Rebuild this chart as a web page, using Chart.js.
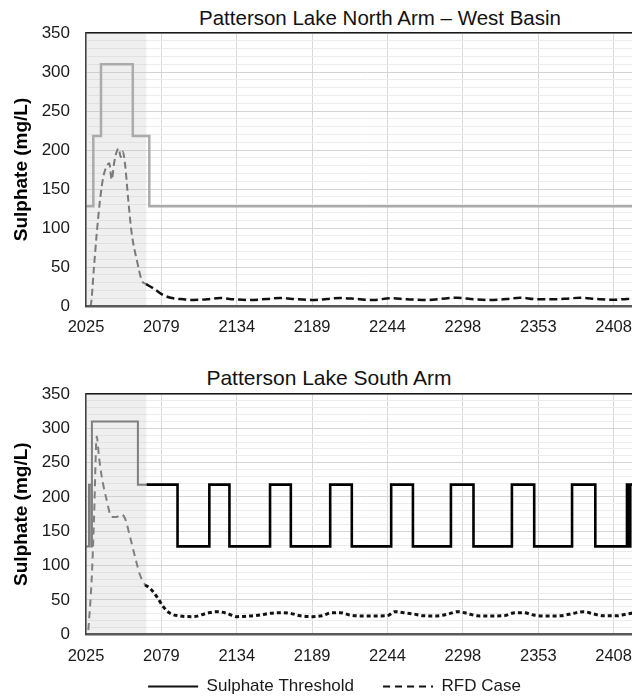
<!DOCTYPE html>
<html><head><meta charset="utf-8">
<script src="https://cdn.jsdelivr.net/npm/chart.js@4.4.1/dist/chart.umd.min.js"></script>
<style>
html,body{margin:0;padding:0;background:#fff;}
#wrap{position:relative;width:632px;height:696px;overflow:hidden;background:#fff;}
canvas{position:absolute;left:0;}
.ttl{position:absolute;transform:translateX(-50%);white-space:nowrap;font-family:'Liberation Sans',Arial,sans-serif;font-size:20.5px;line-height:1;color:#111;}
</style></head><body>
<div id="wrap">
<div class="ttl" style="left:380px;top:8px">Patterson Lake North Arm – West Basin</div>
<canvas id="c1" width="669" height="345" style="top:0"></canvas>
<div class="ttl" style="left:329px;top:367px;font-size:21px">Patterson Lake South Arm</div>
<canvas id="c2" width="669" height="355" style="top:350px"></canvas>
</div>
<script>
const FONT = "'Liberation Sans', Arial, sans-serif";

// ---- axes ----
const xTickValues = [2025, 2079.8, 2134.5, 2189.3, 2244.0, 2298.8, 2353.6, 2408.3];
const xTickLabels = ['2025', '2079', '2134', '2189', '2244', '2298', '2353', '2408'];
const xMin = 2025, xMax = 2434;
const yMin = 0, yMax = 350;
const shadedPeriod = [2025, 2069];
const shadedTop = [350, 350];

// ---- North Arm – West Basin ----
const northThresholdYears  = [2025, 2030.3, 2035.9, 2059.0, 2071.0, 2434];
const northThresholdValues = [128, 218, 310, 218, 128, 128];

const northRfdEarlyYears  = [2027.6, 2028.4, 2030.8, 2032.8, 2035.2, 2037.6, 2040.0, 2041.9, 2043.7, 2045.4, 2047.3, 2048.8, 2050.2, 2051.7, 2053.3, 2055.7, 2058.2, 2061.9, 2065.5, 2068.6];
const northRfdEarlyValues = [0, 1, 50, 93, 136, 166, 179, 183, 162, 183, 198, 202, 191, 198, 183, 136, 93, 59, 33, 28];

const northRfdYears  = [2068.6, 2073.9, 2081.1, 2088.4, 2095.7, 2103.0, 2112.7, 2122.4, 2132.1, 2144.2, 2156.3, 2166.0, 2178.1, 2190.2, 2199.9, 2209.6, 2221.7, 2233.8, 2246.0, 2258.1, 2272.6, 2282.3, 2294.4, 2306.5, 2318.6, 2330.7, 2340.4, 2352.5, 2364.6, 2374.3, 2384.0, 2396.1, 2408.2, 2417.9, 2434];
const northRfdValues = [28, 22.7, 14, 9.9, 8.6, 7.7, 8.6, 10.3, 8.6, 7.7, 9, 10.3, 8.6, 7.7, 9, 10.3, 9, 7.7, 9.9, 8.6, 7.7, 9, 10.6, 8.6, 7.7, 9, 10.6, 8.6, 8.6, 9.4, 10.6, 9, 8, 9, 10];

// ---- South Arm ----
const southThresholdEarlyYears  = [2025, 2027.2, 2028.8, 2029.3, 2062.7, 2069];
const southThresholdEarlyValues = [128, 218, 128, 310, 218, 218];

const southThresholdYears  = [2069, 2091.5, 2114.6, 2129.2, 2158.7, 2173.8, 2202.4, 2218.1, 2246.7, 2262.5, 2290.1, 2306.5, 2334.4, 2350.6, 2378.1, 2395.0, 2418.0, 2419.2, 2420.4, 2434];
const southThresholdValues = [218, 128, 218, 128, 218, 128, 218, 128, 218, 128, 218, 128, 218, 128, 218, 128, 218, 128, 218, 218];

const southRfdEarlyYears  = [2026.7, 2029.1, 2030.8, 2032.8, 2034.4, 2036.4, 2039.5, 2043.7, 2047.3, 2050.2, 2053.3, 2057.0, 2060.6, 2064.3, 2067.9];
const southRfdEarlyValues = [6, 79, 167, 288, 259, 230, 200, 171, 171, 175, 169, 142, 113, 86, 72];

const southRfdYears  = [2067.9, 2071.5, 2076.4, 2081.2, 2086.1, 2093.3, 2103.0, 2112.7, 2120.0, 2127.3, 2134.5, 2144.2, 2151.5, 2158.7, 2166.0, 2173.3, 2180.6, 2189.1, 2196.3, 2203.6, 2209.6, 2216.9, 2226.6, 2236.3, 2243.6, 2249.6, 2255.6, 2262.9, 2270.2, 2279.9, 2288.4, 2294.5, 2301.7, 2309.0, 2318.7, 2328.3, 2336.8, 2342.9, 2350.2, 2359.9, 2369.6, 2379.2, 2386.5, 2393.8, 2401.0, 2410.8, 2418.0, 2427.0, 2434];
const southRfdValues = [72, 67, 55, 40, 30.6, 26.7, 25.7, 30.6, 33, 30.6, 25.7, 26.7, 28, 30.6, 31.5, 30.6, 27, 25.7, 27, 31.5, 31.5, 28, 26.7, 26.7, 27, 33, 31.5, 29.6, 27, 26.7, 29.6, 33, 30.6, 27, 26.7, 27, 31.5, 31.5, 28, 26.7, 27, 30.6, 33, 29.6, 27, 27, 29.6, 32, 31];

function pts(xs, ys) { return xs.map((x, i) => ({ x: x, y: ys[i] })); }

function shadeDataset() {
  return { label: 'shade', data: pts(shadedPeriod, shadedTop), fill: 'origin',
    backgroundColor: 'rgba(190,190,190,0.25)', borderColor: 'rgba(0,0,0,0)', borderWidth: 0.01,
    pointRadius: 0, hideInLegend: true };
}

function makeChart(id, datasets, opts) {
  const legendCfg = opts.legend ? {
    display: true, position: 'bottom', align: 'center',
    labels: {
      usePointStyle: true, pointStyle: 'line', pointStyleWidth: 50, padding: 29,
      color: '#1a1a1a', font: { family: FONT, size: 17 },
      generateLabels: (chart) => {
        const items = Chart.defaults.plugins.legend.labels.generateLabels(chart);
        return items.filter(it => !chart.data.datasets[it.datasetIndex].hideInLegend).map(it => {
          const ds = chart.data.datasets[it.datasetIndex];
          it.lineWidth = 2;
          it.strokeStyle = '#111111';
          it.lineDash = ds.borderDash ? [7, 5] : [];
          it.fillStyle = 'rgba(0,0,0,0)';
          return it;
        });
      }
    }
  } : { display: false };

  return new Chart(document.getElementById(id), {
    type: 'line',
    data: { datasets: datasets },
    options: {
      responsive: false, animation: false, devicePixelRatio: 1,
      layout: { padding: { top: opts.padTop, left: 0, right: 0, bottom: 0 } },
      elements: { point: { radius: 0 }, line: { tension: 0 } },
      plugins: { title: { display: false }, tooltip: { enabled: false }, legend: legendCfg },
      scales: {
        x: {
          type: 'linear', position: 'bottom', min: xMin, max: xMax,
          afterBuildTicks: s => { s.ticks = xTickValues.map(v => ({ value: v })); },
          afterFit: s => { s.height = opts.xHeight; s._computeLabelArea = () => undefined; },
          ticks: { autoSkip: false, maxRotation: 0, padding: 12, color: '#1a1a1a',
            font: { family: FONT, size: 16.5 }, callback: (v, i) => xTickLabels[i] },
          grid: { color: '#d9d9d9', lineWidth: 1, drawTicks: false },
          border: { display: true, color: '#595959', width: 2.5, z: 1 }
        },
        xTop: {
          type: 'linear', position: 'top', display: true,
          ticks: { display: false }, grid: { display: false },
          border: { display: true, color: '#1a1a1a', width: 1.5, z: 1 },
          afterFit: s => { s.height = 0; }
        },
        y: {
          type: 'linear', position: 'left', min: yMin, max: yMax,
          afterFit: s => { s.width = 86; },
          ticks: { stepSize: 10, autoSkip: false, padding: 16, color: '#1a1a1a',
            font: { family: FONT, size: 17 }, callback: v => (v % 50 === 0 ? String(v) : '') },
          grid: { color: c => (c.tick && c.tick.value % 50 === 0 ? '#d4d4d4' : '#ececec'), lineWidth: 1, drawTicks: false },
          border: { display: true, color: '#404040', width: 1.5, z: 1 },
          title: { display: true, text: 'Sulphate (mg/L)', color: '#000',
            font: { family: FONT, size: 19, weight: 'bold' }, padding: { top: 10, bottom: 0 } }
        },
        yR: {
          type: 'linear', position: 'right', display: true,
          ticks: { display: false }, grid: { display: false }, border: { display: false },
          afterFit: s => { s.width = 20; }
        }
      }
    }
  });
}

makeChart('c1', [
  { label: 'Sulphate Threshold', data: pts(northThresholdYears, northThresholdValues), stepped: true,
    borderColor: '#ababab', borderWidth: 2.5, pointRadius: 0, fill: false },
  { label: 'RFD Case', data: pts(northRfdYears, northRfdValues), borderColor: '#111111', borderWidth: 2.5,
    borderDash: [8, 4], pointRadius: 0, fill: false, cubicInterpolationMode: 'monotone' },
  { label: 'RFD Case (early)', data: pts(northRfdEarlyYears, northRfdEarlyValues), borderColor: '#7a7a7a', borderWidth: 2,
    borderDash: [7, 4], pointRadius: 0, fill: false, cubicInterpolationMode: 'monotone', hideInLegend: true },
  shadeDataset()
], { legend: false, padTop: 33, xHeight: 39 });

makeChart('c2', [
  { label: 'Sulphate Threshold', data: pts(southThresholdYears, southThresholdValues), stepped: true,
    borderColor: '#000000', borderWidth: 2.6, pointRadius: 0, fill: false },
  { label: 'RFD Case', data: pts(southRfdYears, southRfdValues), borderColor: '#111111', borderWidth: 3,
    borderDash: [4, 3], pointRadius: 0, fill: false, cubicInterpolationMode: 'monotone' },
  { label: 'Sulphate Threshold (early)', data: pts(southThresholdEarlyYears, southThresholdEarlyValues), stepped: true,
    borderColor: '#7f7f7f', borderWidth: 2, pointRadius: 0, fill: false, hideInLegend: true },
  { label: 'RFD Case (early)', data: pts(southRfdEarlyYears, southRfdEarlyValues), borderColor: '#7f7f7f', borderWidth: 2,
    borderDash: [7, 5], pointRadius: 0, fill: false, cubicInterpolationMode: 'monotone', hideInLegend: true },
  shadeDataset()
], { legend: true, padTop: 44, xHeight: 14.7 });
</script>
</body></html>
